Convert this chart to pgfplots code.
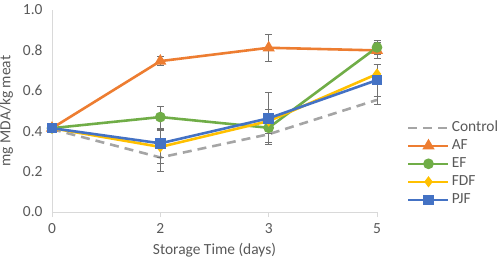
\documentclass[border=0pt]{standalone}
\usepackage{fontspec}
\setmainfont{Carlito}
\usepackage{pgfplots}
\pgfplotsset{compat=1.18}
\definecolor{cctrl}{HTML}{A5A5A5}
\definecolor{caf}{HTML}{ED7D31}
\definecolor{cef}{HTML}{70AD47}
\definecolor{cfdf}{HTML}{FFC000}
\definecolor{cpjf}{HTML}{4472C4}
\definecolor{ctxt}{HTML}{595959}
\definecolor{cax}{HTML}{D9D9D9}
\begin{document}
\begin{tikzpicture}
\useasboundingbox (-52bp,-48bp) rectangle (447bp,212bp);
\begin{axis}[
  at={(0,0)}, anchor=south west,
  scale only axis, width=325bp, height=202bp,
  xmin=0, xmax=3, ymin=0, ymax=1.0,
  xtick={0,1,2,3}, xticklabels={0,2,3,5},
  ytick={0,0.2,0.4,0.6,0.8,1.0},
  yticklabel style={xshift=-1bp, /pgf/number format/.cd,fixed,fixed zerofill,precision=1},
  /pgf/number format/assume math mode=true,
  axis lines*=left,
  axis line style={cax, line width=0.8pt, -},
  xtick style={cax, line width=0.8pt},
  xtick pos=lower, tick align=outside, major tick length=5bp,
  ytick style={draw=none},
  tick label style={font=\fontsize{15.5}{18}\selectfont, color=ctxt},
  xticklabel style={yshift=-3bp},
  label style={font=\fontsize{15.5}{18}\selectfont, color=ctxt},
  xlabel={Storage Time (days)},
  ylabel={mg MDA/kg meat},
  xlabel style={yshift=-3bp},
  ylabel style={yshift=3bp},
  clip=false,
  legend cell align=left,
  legend style={draw=none, fill=none, at={([xshift=30bp,yshift=5bp]rel axis cs:1,0)}, anchor=south west,
    font=\fontsize{15.5}{18}\selectfont, text=ctxt, row sep=4bp, inner sep=0pt,
    nodes={text height=11bp, text depth=3bp, inner sep=0pt, inner xsep=2bp}},
  legend image code/.code={\draw[mark repeat=2,mark phase=2,#1] plot coordinates {(0bp,0bp) (20bp,0bp) (40bp,0bp)};},
  error bars/error bar style={color=ctxt!85, line width=0.7pt, solid},
  error bars/error mark options={rotate=90, mark size=3.5bp, color=ctxt!85, line width=0.7pt, solid},
]
\addplot[cctrl, line width=2.6pt, dash pattern=on 9bp off 6bp, mark=none,
  error bars/.cd, y dir=both, y explicit]
  coordinates {(0,0.41) +- (0,0.01) (1,0.27) +- (0,0.07) (2,0.385) +- (0,0.04) (3,0.555) +- (0,0.02)};
\addlegendentry{Control}
\addplot[caf, line width=2.6pt, mark=triangle*, mark size=4.5bp, mark options={solid},
  error bars/.cd, y dir=both, y explicit]
  coordinates {(0,0.415) +- (0,0.01) (1,0.747) +- (0,0.023) (2,0.813) +- (0,0.067) (3,0.80) +- (0,0.04)};
\addlegendentry{AF}
\addplot[cef, line width=2.6pt, mark=*, mark size=4bp, mark options={solid},
  error bars/.cd, y dir=both, y explicit]
  coordinates {(0,0.415) +- (0,0.01) (1,0.47) +- (0,0.055) (2,0.417) +- (0,0.03) (3,0.815) +- (0,0.035)};
\addlegendentry{EF}
\addplot[cfdf, line width=2.6pt, mark=diamond*, mark size=3.5bp, mark options={solid},
  error bars/.cd, y dir=both, y explicit]
  coordinates {(0,0.415) +- (0,0.01) (1,0.322) +- (0,0.08) (2,0.45) +- (0,0.06) (3,0.683) +- (0,0.05)};
\addlegendentry{FDF}
\addplot[cpjf, line width=2.6pt, mark=square*, mark size=4bp, mark options={solid},
  error bars/.cd, y dir=both, y explicit]
  coordinates {(0,0.415) +- (0,0.01) (1,0.34) +- (0,0.07) (2,0.464) +- (0,0.13) (3,0.653) +- (0,0.08)};
\addlegendentry{PJF}
\end{axis}
\end{tikzpicture}
\end{document}
